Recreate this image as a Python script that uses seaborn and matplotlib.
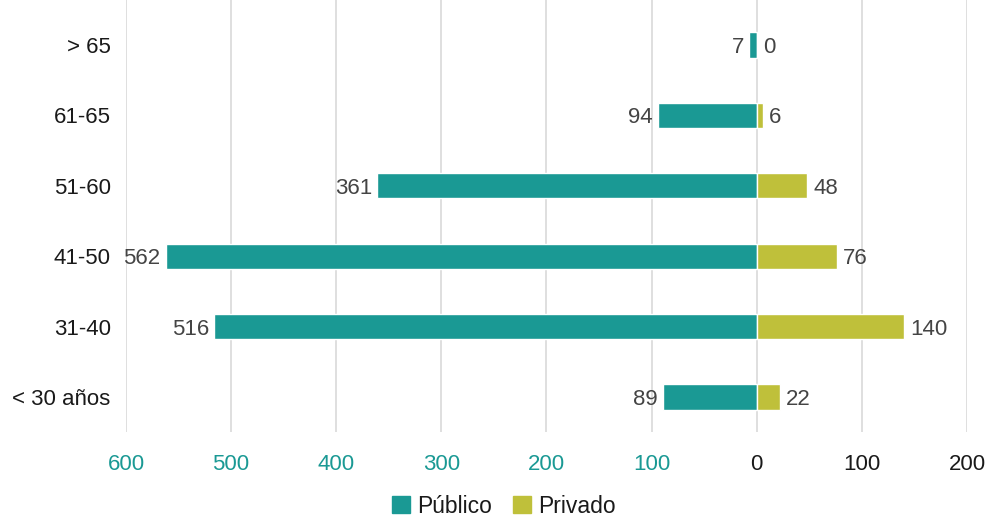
import matplotlib
matplotlib.use("Agg")
import matplotlib.pyplot as plt
import seaborn as sns
import pandas as pd
from matplotlib.patches import Patch

grupos = ["> 65", "61-65", "51-60", "41-50", "31-40", "< 30 años"]
publico = [7, 94, 361, 562, 516, 89]
privado = [0, 6, 48, 76, 140, 22]
ticks = [-600, -500, -400, -300, -200, -100, 0, 100, 200]
tick_labels = ["600", "500", "400", "300", "200", "100", "0", "100", "200"]

TEAL = "#1a9994"
OLIVE = "#bfc03a"
TEXT = "#1a1a1a"
LABEL = "#444444"
FS = 16

sns.set_theme(style="white")
plt.rcParams["font.family"] = ["Liberation Sans", "DejaVu Sans"]

df = pd.DataFrame({
    "grupo": grupos * 2,
    "valor": [-v for v in publico] + privado,
    "sector": ["Público"] * len(grupos) + ["Privado"] * len(grupos),
})

fig = plt.figure(figsize=(9.88, 5.2), dpi=100)
ax = fig.add_axes([0.1275, 0.169, 0.8512, 0.831])

sns.barplot(data=df, y="grupo", x="valor", hue="sector", order=grupos,
            hue_order=["Público", "Privado"], palette=[TEAL, OLIVE],
            dodge=False, orient="h", width=0.36, legend=False, ax=ax,
            saturation=1, zorder=3)

ax.set_xlim(-600, 200)
ax.set_ylim(5.5, -0.64)
ax.set_xticks(ticks)
ax.set_xticklabels(tick_labels)
ax.grid(axis="x", color="#d9d9d9", linewidth=1.2, zorder=0)
ax.grid(axis="y", visible=False)
for s in ax.spines.values():
    s.set_visible(False)
ax.set_xlabel("")
ax.set_ylabel("")
ax.tick_params(axis="x", length=0, pad=16, labelsize=FS)
ax.tick_params(axis="y", length=0, pad=11, labelsize=FS, labelcolor=TEXT)
for lbl, t in zip(ax.get_xticklabels(), ticks):
    lbl.set_color(TEAL if t < 0 else TEXT)

for i, (pu, pr) in enumerate(zip(publico, privado)):
    ax.text(-pu - 5, i, str(pu), ha="right", va="center_baseline", fontsize=FS, color=LABEL)
    ax.text(pr + 6, i, str(pr), ha="left", va="center_baseline", fontsize=FS, color=LABEL)

handles = [Patch(color=TEAL, label="Público"), Patch(color=OLIVE, label="Privado")]
fig.legend(handles=handles, loc="lower center", bbox_to_anchor=(0.51, -0.035),
           ncol=2, frameon=False, fontsize=16.5, handlelength=0.8, handleheight=0.8,
           handletextpad=0.3, columnspacing=0.9, labelcolor=TEXT)

fig.savefig("out.png", dpi=100)
